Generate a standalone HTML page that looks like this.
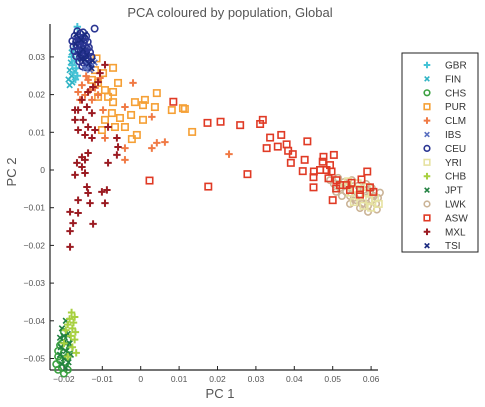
<!DOCTYPE html>
<html><head><meta charset="utf-8"><style>
html,body{margin:0;padding:0;background:#fff;}
svg{display:block;font-family:"Liberation Sans",sans-serif;}
</style></head><body>
<svg id="chart" width="485" height="407" viewBox="0 0 485 407">
<text x="230" y="17" text-anchor="middle" font-size="13" fill="#555">PCA coloured by population, Global</text>
<g id="axes"></g>
<g id="points"></g>
<text x="220" y="398" text-anchor="middle" font-size="13" fill="#555">PC 1</text>
<text x="16" y="172" text-anchor="middle" font-size="13" fill="#555" transform="rotate(-90 16 172)">PC 2</text>
<g id="legend"></g>
</svg>
<script>
const xTicks=[-0.02,-0.01,0,0.01,0.02,0.03,0.04,0.05,0.06];
const xTickLabels=["\u22120.02","\u22120.01","0","0.01","0.02","0.03","0.04","0.05","0.06"];
const yTicks=[0.03,0.02,0.01,0,-0.01,-0.02,-0.03,-0.04,-0.05];
const yTickLabels=["0.03","0.02","0.01","0","\u22120.01","\u22120.02","\u22120.03","\u22120.04","\u22120.05"];
const legendNames=["GBR","FIN","CHS","PUR","CLM","IBS","CEU","YRI","CHB","JPT","LWK","ASW","MXL","TSI"];

const GBR=[[-0.0165,0.0380],[-0.0175,0.0320],[-0.0180,0.0300],[-0.0172,0.0290],[-0.0178,0.0278],[-0.0168,0.0270],[-0.0175,0.0258],[-0.0165,0.0250],[-0.0170,0.0240]];
const FIN=[[-0.0182,0.0285],[-0.0185,0.0265],[-0.0180,0.0250],[-0.0188,0.0240],[-0.0178,0.0232],[-0.0185,0.0225],[-0.0172,0.0262],[-0.0180,0.0312]];
const CHS=[[-0.0200,-0.0430],[-0.0190,-0.0450],[-0.0205,-0.0460],[-0.0185,-0.0475],[-0.0200,-0.0485],[-0.0215,-0.0480],[-0.0190,-0.0495],[-0.0210,-0.0505],[-0.0195,-0.0510],[-0.0220,-0.0515],[-0.0205,-0.0525],[-0.0190,-0.0530],[-0.0215,-0.0530],[-0.0200,-0.0540],[-0.0210,-0.0465],[-0.0195,-0.0470],[-0.0215,-0.0495]];
const PUR=[[-0.0115,0.0296],[-0.0072,0.0271],[-0.0098,0.0257],[-0.0059,0.0231],[-0.0111,0.0231],[-0.0093,0.0212],[-0.0072,0.0207],[-0.0111,0.0194],[-0.0085,0.0194],[-0.0072,0.0180],[-0.0015,0.0180],[0.0011,0.0186],[0.0042,0.0204],[0.0037,0.0167],[0.0006,0.0172],[-0.0025,0.0146],[0.0006,0.0133],[-0.0075,0.0151],[-0.0054,0.0138],[-0.0093,0.0133],[-0.0067,0.0114],[-0.0041,0.0114],[-0.0010,0.0093],[-0.0023,0.0082],[-0.0101,0.0106],[0.0081,0.0159],[0.0110,0.0164],[-0.0119,0.0265],[-0.0127,0.0239],[0.0115,0.0162],[0.0134,0.0101]];
const CLM=[[-0.0020,0.0231],[-0.0041,0.0167],[0.0029,0.0141],[-0.0098,0.0159],[-0.0093,0.0085],[-0.0041,0.0058],[0.0042,0.0072],[0.0029,0.0058],[0.0063,0.0074],[-0.0041,0.0027],[0.0230,0.0042],[-0.0153,0.0225],[-0.0137,0.0239],[-0.0132,0.0212],[-0.0145,0.0199],[-0.0119,0.0218],[-0.0158,0.0186],[-0.0127,0.0186],[-0.0142,0.0249],[-0.0111,0.0199],[-0.0106,0.0244],[-0.0163,0.0207]];
const IBS=[[-0.0138,0.0280],[-0.0128,0.0278],[-0.0132,0.0265],[-0.0120,0.0285],[-0.0145,0.0270]];
const CEU=[[-0.0165,0.0368],[-0.0158,0.0362],[-0.0150,0.0365],[-0.0172,0.0355],[-0.0162,0.0352],[-0.0152,0.0350],[-0.0142,0.0355],[-0.0178,0.0342],[-0.0168,0.0340],[-0.0158,0.0342],[-0.0148,0.0338],[-0.0138,0.0340],[-0.0175,0.0328],[-0.0165,0.0330],[-0.0155,0.0326],[-0.0145,0.0328],[-0.0135,0.0325],[-0.0172,0.0315],[-0.0162,0.0318],[-0.0152,0.0312],[-0.0142,0.0315],[-0.0132,0.0312],[-0.0168,0.0302],[-0.0158,0.0300],[-0.0148,0.0302],[-0.0138,0.0298],[-0.0128,0.0300],[-0.0160,0.0288],[-0.0150,0.0285],[-0.0140,0.0288],[-0.0130,0.0286],[-0.0152,0.0275],[-0.0142,0.0272],[-0.0135,0.0278],[-0.0120,0.0375],[-0.0160,0.0334],[-0.0150,0.0320],[-0.0140,0.0322],[-0.0155,0.0306],[-0.0145,0.0308],[-0.0162,0.0345],[-0.0145,0.0346]];
const YRI=[[0.0530,-0.0040],[0.0545,-0.0060],[0.0560,-0.0050],[0.0570,-0.0070],[0.0585,-0.0060],[0.0595,-0.0080],[0.0610,-0.0075],[0.0555,-0.0085],[0.0580,-0.0095],[0.0600,-0.0100],[0.0620,-0.0090],[0.0540,-0.0030],[0.0565,-0.0035],[0.0590,-0.0045]];
const CHB=[[-0.0180,-0.0378],[-0.0172,-0.0390],[-0.0185,-0.0395],[-0.0175,-0.0405],[-0.0190,-0.0410],[-0.0178,-0.0420],[-0.0170,-0.0430],[-0.0195,-0.0425],[-0.0182,-0.0440],[-0.0172,-0.0450],[-0.0200,-0.0460],[-0.0178,-0.0470],[-0.0168,-0.0485],[-0.0190,-0.0495]];
const JPT=[[-0.0195,-0.0400],[-0.0205,-0.0420],[-0.0190,-0.0435],[-0.0210,-0.0445],[-0.0198,-0.0455],[-0.0185,-0.0460],[-0.0208,-0.0470],[-0.0195,-0.0480],[-0.0210,-0.0490],[-0.0200,-0.0500],[-0.0188,-0.0510],[-0.0205,-0.0515],[-0.0195,-0.0525],[-0.0182,-0.0490],[-0.0200,-0.0440]];
const LWK=[[0.0493,-0.0027],[0.0503,-0.0037],[0.0514,-0.0021],[0.0519,-0.0048],[0.0529,-0.0032],[0.0535,-0.0058],[0.0540,-0.0042],[0.0545,-0.0069],[0.0550,-0.0027],[0.0555,-0.0053],[0.0561,-0.0080],[0.0566,-0.0042],[0.0571,-0.0064],[0.0576,-0.0090],[0.0581,-0.0053],[0.0587,-0.0074],[0.0592,-0.0095],[0.0597,-0.0058],[0.0602,-0.0080],[0.0607,-0.0069],[0.0613,-0.0090],[0.0618,-0.0074],[0.0524,-0.0069],[0.0545,-0.0090],[0.0571,-0.0101],[0.0587,-0.0037],[0.0602,-0.0048],[0.0509,-0.0058],[0.0555,-0.0074],[0.0592,-0.0111],[0.0623,-0.0060],[0.0615,-0.0105]];
const ASW=[[0.0174,0.0125],[0.0208,0.0128],[0.0259,0.0119],[0.0311,0.0122],[0.0318,0.0133],[0.0337,0.0086],[0.0366,0.0093],[0.0328,0.0058],[0.0357,0.0062],[0.0380,0.0068],[0.0384,0.0051],[0.0396,0.0042],[0.0434,0.0076],[0.0391,0.0019],[0.0427,0.0027],[0.0422,-0.0003],[0.0451,-0.0004],[0.0450,-0.0019],[0.0450,-0.0046],[0.0476,0.0035],[0.0474,0.0022],[0.0503,0.0040],[0.0493,0.0013],[0.0484,0.0000],[0.0497,-0.0004],[0.0467,0.0000],[0.0489,-0.0022],[0.0510,-0.0027],[0.0519,-0.0040],[0.0509,-0.0049],[0.0536,-0.0040],[0.0549,-0.0034],[0.0545,-0.0053],[0.0571,-0.0053],[0.0575,-0.0025],[0.0590,-0.0004],[0.0597,-0.0046],[0.0606,-0.0058],[0.0571,-0.0065],[0.0500,-0.0080],[0.0176,-0.0044],[0.0278,-0.0011],[0.0023,-0.0028],[0.0085,0.0181]];
const MXL=[[-0.0093,0.0279],[-0.0106,0.0257],[-0.0124,0.0220],[-0.0137,0.0207],[-0.0153,0.0186],[-0.0163,0.0159],[-0.0140,0.0167],[-0.0127,0.0151],[-0.0150,0.0133],[-0.0137,0.0114],[-0.0171,0.0133],[-0.0163,0.0106],[-0.0119,0.0106],[-0.0145,0.0093],[-0.0127,0.0085],[-0.0085,0.0114],[-0.0062,0.0085],[-0.0059,0.0061],[-0.0062,0.0040],[-0.0085,0.0019],[-0.0137,0.0045],[-0.0145,0.0027],[-0.0153,0.0034],[-0.0166,0.0019],[-0.0153,0.0008],[-0.0145,-0.0008],[-0.0171,-0.0013],[-0.0140,-0.0045],[-0.0137,-0.0061],[-0.0163,-0.0080],[-0.0101,-0.0058],[-0.0088,-0.0053],[-0.0132,-0.0088],[-0.0093,-0.0088],[-0.0184,-0.0111],[-0.0163,-0.0114],[-0.0176,-0.0141],[-0.0124,-0.0143],[-0.0184,-0.0162],[-0.0184,-0.0204],[-0.0171,0.0159],[-0.0111,0.0233]];
const TSI=[[-0.0168,0.0360],[-0.0155,0.0345],[-0.0145,0.0360],[-0.0170,0.0335],[-0.0150,0.0320],[-0.0140,0.0305],[-0.0160,0.0308],[-0.0145,0.0292],[-0.0135,0.0282],[-0.0128,0.0270],[-0.0155,0.0295],[-0.0125,0.0290]];

const series=[
 {name:"GBR",pts:GBR,shape:"plus",color:"#45c3d6"},
 {name:"FIN",pts:FIN,shape:"x",color:"#2fb3c4"},
 {name:"CHS",pts:CHS,shape:"circle",color:"#3aa040"},
 {name:"PUR",pts:PUR,shape:"square",color:"#f5a035"},
 {name:"CLM",pts:CLM,shape:"plus",color:"#f07a45"},
 {name:"IBS",pts:IBS,shape:"x",color:"#5a70c0"},
 {name:"CEU",pts:CEU,shape:"circle",color:"#2a3592"},
 {name:"YRI",pts:YRI,shape:"square",color:"#e6e2a2"},
 {name:"CHB",pts:CHB,shape:"plus",color:"#a8d040"},
 {name:"JPT",pts:JPT,shape:"x",color:"#208040"},
 {name:"LWK",pts:LWK,shape:"circle",color:"#cbb497"},
 {name:"ASW",pts:ASW,shape:"square",color:"#e03a25"},
 {name:"MXL",pts:MXL,shape:"plus",color:"#9b1b22"},
 {name:"TSI",pts:TSI,shape:"x",color:"#1a2a80"}
];
const NS="http://www.w3.org/2000/svg";
function xs(v){return 140.7+v*3840;}
function ys(v){return 170-v*3770;}
function mk(tag,attrs,parent){const e=document.createElementNS(NS,tag);for(const k in attrs)e.setAttribute(k,attrs[k]);parent.appendChild(e);return e;}
const axes=document.getElementById('axes');
const ax1=mk('line',{x1:50,y1:24,x2:50,y2:370,stroke:'#222','stroke-width':1.2},axes);


const ax2=mk('line',{x1:50,y1:370,x2:378,y2:370,stroke:'#222','stroke-width':1.2},axes);


xTicks.forEach((v,i)=>{
 const x=xs(v);
 const t=mk('line',{x1:x,y1:370,x2:x,y2:366,stroke:'#222','stroke-width':1},axes);
 
 
 const l=mk('text',{x:x,y:382,'text-anchor':'middle','font-size':8.5,fill:'#555'},axes);
 l.textContent=xTickLabels[i];
 
 
});
yTicks.forEach((v,i)=>{
 const y=ys(v);
 const t=mk('line',{x1:50,y1:y,x2:54,y2:y,stroke:'#222','stroke-width':1},axes);
 
 
 const l=mk('text',{x:45,y:y+3,'text-anchor':'end','font-size':8.5,fill:'#555'},axes);
 l.textContent=yTickLabels[i];
 
 
});
function marker(shape,x,y,c,parent,s){
 s=s||3.2;let e;
 if(shape==='square'){e=mk('rect',{x:x-s,y:y-s,width:2*s,height:2*s,fill:'none',stroke:c,'stroke-width':1.6},parent);}
 else if(shape==='circle'){e=mk('circle',{cx:x,cy:y,r:s,fill:'none',stroke:c,'stroke-width':1.6},parent);}
 else if(shape==='plus'){e=mk('path',{d:`M${x-s-0.5},${y}H${x+s+0.5}M${x},${y-s-0.5}V${y+s+0.5}`,stroke:c,'stroke-width':2,fill:'none'},parent);}
 else {e=mk('path',{d:`M${x-s+0.5},${y-s+0.5}L${x+s-0.5},${y+s-0.5}M${x-s+0.5},${y+s-0.5}L${x+s-0.5},${y-s+0.5}`,stroke:c,'stroke-width':1.6,fill:'none'},parent);}
 return e;
}
const pg=document.getElementById('points');
const order=[10,7,11,3,4,12,2,9,8,1,0,6,5,13];
order.forEach(si=>{
 const s=series[si];
 const g=mk('g',{},pg);
 
 
 s.pts.forEach(p=>{
  const m=marker(s.shape,xs(p[0]),ys(p[1]),s.color,g);
  
  
 });
});
const lg=document.getElementById('legend');
const box=mk('rect',{x:402,y:53,width:76,height:199,fill:'#fff',stroke:'#222','stroke-width':1},lg);


legendNames.forEach((n,i)=>{
 const s=series[i];
 const y=65+i*13.9;
 const g=mk('g',{},lg);
 
 
 marker(s.shape,427,y,s.color,g,2.8);
 const t=mk('text',{x:445,y:y+3.5,'font-size':10,fill:'#333'},g);
 t.textContent=n;
});
</script>
</body></html>
